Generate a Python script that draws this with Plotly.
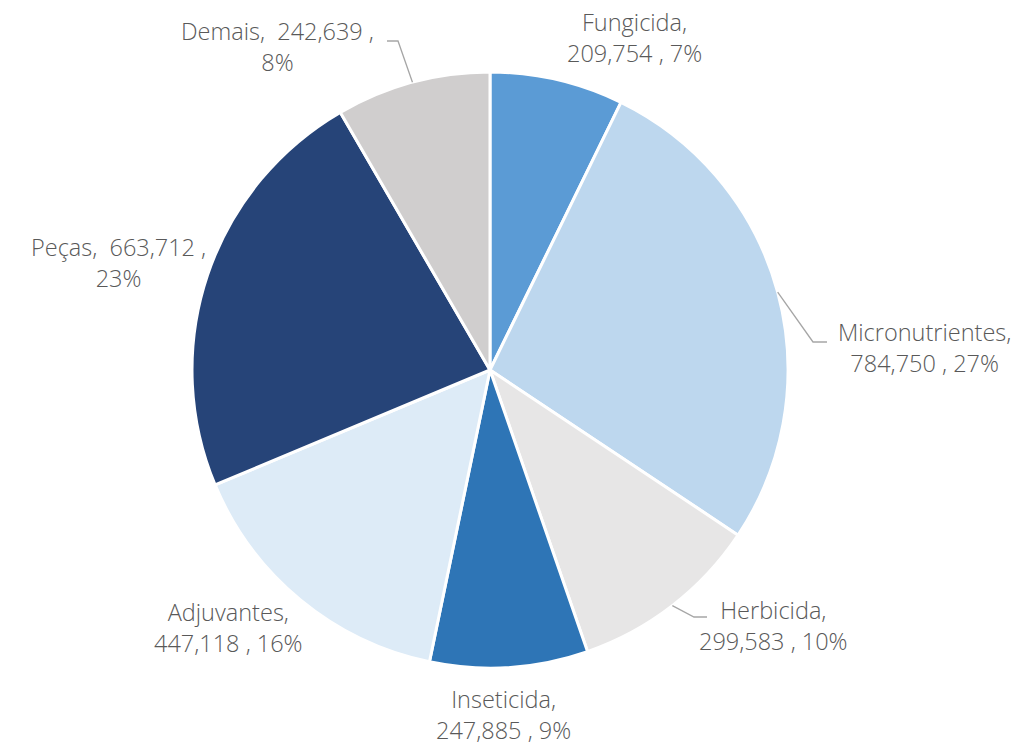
import math
import plotly.graph_objects as go

# ---- data ----
categories = ["Fungicida", "Micronutrientes", "Herbicida", "Inseticida", "Adjuvantes", "Peças", "Demais"]
values = [209754, 784750, 299583, 247885, 447118, 663712, 242639]
pct_labels = ["7%", "27%", "10%", "9%", "16%", "23%", "8%"]

# ---- style / layout ----
colors = ["#5B9BD5", "#BDD7EE", "#E7E6E6", "#2E75B6", "#DDEBF7", "#264478", "#D0CECE"]
W, H = 1020, 745
CX, CY, R = 490, 370, 298            # pie centre / radius in screen pixels
FONT = "Open Sans, sans-serif"
TXT = "#595959"
FS = 23.5

# label text layout: (template, centre x px, centre y px)
label_layout = {
    "Fungicida":       ("{c},<br>{v} , {p}", 634, 38),
    "Micronutrientes": ("{c},<br>{v} , {p}", 924, 347),
    "Herbicida":       ("{c},<br>{v} , {p}", 773, 625),
    "Inseticida":      ("{c},<br>{v} , {p}", 503, 714),
    "Adjuvantes":      ("{c},<br>{v} , {p}", 228, 627),
    "Peças":           ("{c},  {v} ,<br>{p}", 118, 262),
    "Demais":          ("{c},  {v} ,<br>{p}", 277, 47),
}
# leader lines: elbow and end points in px
leaders = {
    "Micronutrientes": [(813, 342), (827, 342)],
    "Herbicida": [(694, 617), (707, 617)],
    "Demais": [(398, 41), (387, 41)],
}


def px(x, y):
    return x / W, 1 - y / H


x0, y1 = px(CX - R, CY - R)
x1, y0 = px(CX + R, CY + R)
fig = go.Figure(go.Pie(
    labels=categories,
    values=values,
    sort=False,
    direction="clockwise",
    rotation=0,
    textinfo="none",
    hoverinfo="label+value+percent",
    marker=dict(colors=colors, line=dict(color="white", width=3)),
    domain=dict(x=[x0, x1], y=[y0, y1]),
    showlegend=False,
))

annotations = []
for c, v, p in zip(categories, values, pct_labels):
    tmpl, lx, ly = label_layout[c]
    ax, ay = px(lx, ly)
    annotations.append(dict(
        x=ax, y=ay, xref="paper", yref="paper", showarrow=False,
        text=tmpl.format(c=c, v=f"{v:,}", p=p), align="center",
        xanchor="center", yanchor="middle",
        font=dict(family=FONT, size=FS, color=TXT, weight=300),
    ))

total = sum(values)
shapes = []
cum = 0
for c, v in zip(categories, values):
    mid = (cum + v / 2) / total * 2 * math.pi
    cum += v
    if c in leaders:
        sx = CX + R * math.sin(mid)
        sy = CY - R * math.cos(mid)
        pts = [(sx, sy)] + leaders[c]
        path = ""
        for i, (x, y) in enumerate(pts):
            X, Y = px(x, y)
            path += ("M" if i == 0 else " L") + f" {X:.5f},{Y:.5f}"
        shapes.append(dict(type="path", path=path, xref="paper", yref="paper",
                           line=dict(color="#A6A6A6", width=1.3)))

fig.update_layout(
    width=W, height=H,
    margin=dict(l=0, r=0, t=0, b=0),
    paper_bgcolor="white", plot_bgcolor="white",
    annotations=annotations, shapes=shapes,
)
fig.write_html("out.html", config={"displayModeBar": False},
               post_script="document.body.style.margin='0';")
